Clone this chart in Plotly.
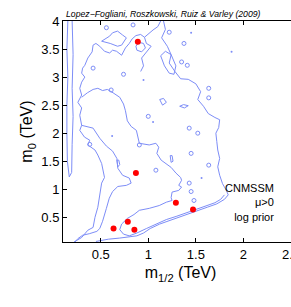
import plotly.graph_objects as go

# ---- contour lines of the posterior, (m_1/2 [TeV], m_0 [TeV]) ----
sliver = [(0.155, 4.0), (0.145, 3.5), (0.155, 3.0), (0.145, 2.5), (0.145, 2.0), (0.15, 1.5),
          (0.17, 1.22), (0.195, 1.3), (0.2, 1.8), (0.21, 2.3), (0.2, 2.8), (0.21, 3.4), (0.2, 4.0)]

top_left = [(1.13, 4.0), (1.1, 3.9), (1.05, 3.84), (1.0, 3.76), (0.96, 3.71), (0.92, 3.76),
            (0.87, 3.74), (0.83, 3.68), (0.8, 3.6), (0.76, 3.52), (0.72, 3.39), (0.667, 3.46),
            (0.625, 3.48), (0.594, 3.43), (0.54, 3.46), (0.49, 3.55), (0.45, 3.6),
            (0.42, 3.57), (0.41, 3.45), (0.365, 3.34), (0.333, 3.21), (0.31, 3.16), (0.30, 3.07),
            (0.333, 3.0), (0.30, 2.91), (0.28, 2.80), (0.30, 2.68), (0.26, 2.55), (0.30, 2.45),
            (0.28, 2.32), (0.30, 2.14), (0.28, 2.05), (0.33, 1.93), (0.385, 1.875), (0.365, 1.79),
            (0.44, 1.70), (0.47, 1.61), (0.51, 1.46), (0.52, 1.375), (0.54, 1.21), (0.51, 1.11),
            (0.5, 0.98), (0.49, 0.86), (0.47, 0.68), (0.44, 0.5), (0.42, 0.32), (0.365, 0.27),
            (0.3, 0.14), (0.25, 0.09), (0.22, 0.06)]

top_wiggle = [(0.51, 3.64), (0.5625, 3.70), (0.594, 3.73), (0.625, 3.79), (0.677, 3.82),
              (0.73, 3.75), (0.77, 3.70), (0.72, 3.57), (0.677, 3.55), (0.6, 3.6), (0.51, 3.64)]

top_drop = [(0.96, 3.71), (0.98, 3.6), (1.03, 3.55), (0.98, 3.45), (0.93, 3.34), (0.95, 3.2),
            (0.92, 3.1)]

notch = [(0.30, 2.14), (0.42, 2.09), (0.49, 1.91), (0.56, 1.77), (0.625, 1.68), (0.67, 1.55),
         (0.68, 1.375), (0.73, 1.25), (0.80, 1.2), (0.82, 1.11), (0.77, 1.07), (0.68, 1.05),
         (0.625, 0.96), (0.59, 0.84), (0.56, 0.66), (0.54, 0.54), (0.52, 0.43), (0.49, 0.30),
         (0.46, 0.25), (0.385, 0.21), (0.31, 0.18), (0.26, 0.12), (0.23, 0.06)]

middle = [(0.30, 2.64), (0.36, 2.72), (0.42, 2.78), (0.47, 2.8), (0.52, 2.76), (0.57, 2.78),
          (0.63, 2.72), (0.7, 2.64), (0.74, 2.52), (0.76, 2.4), (0.78, 2.22), (0.82, 2.12),
          (0.875, 2.05), (0.9, 1.9), (0.906, 1.82), (1.01, 1.79), (1.08, 1.82), (1.11, 1.75),
          (1.09, 1.64), (1.135, 1.52), (1.19, 1.46), (1.24, 1.39), (1.29, 1.29), (1.34, 1.21),
          (1.35, 1.16), (1.32, 1.07), (1.35, 1.04), (1.32, 0.98), (1.25, 0.95), (1.24, 0.85),
          (1.25, 0.8), (1.19, 0.77), (1.115, 0.71), (1.01, 0.66), (0.906, 0.625), (0.85, 0.55),
          (0.78, 0.48), (0.72, 0.38), (0.7, 0.28), (0.74, 0.2), (0.8, 0.17), (0.88, 0.22),
          (0.98, 0.30), (1.08, 0.38), (1.19, 0.46), (1.3, 0.52), (1.4, 0.58), (1.5, 0.65),
          (1.6, 0.7), (1.7, 0.76), (1.76, 0.82), (1.8, 0.9)]

right_side = [(1.16, 4.0), (1.18, 3.85), (1.14, 3.7), (1.2, 3.55), (1.24, 3.4), (1.22, 3.25),
              (1.28, 3.1), (1.34, 2.97), (1.42, 2.96), (1.5, 2.88), (1.55, 2.74), (1.52, 2.6),
              (1.58, 2.48), (1.63, 2.35), (1.7, 2.28), (1.75, 2.24), (1.74, 2.1), (1.71, 2.0),
              (1.72, 1.85), (1.73, 1.7), (1.75, 1.55), (1.73, 1.4), (1.75, 1.25), (1.78, 1.1),
              (1.82, 0.98), (1.84, 0.9), (1.8, 0.82), (1.72, 0.74), (1.62, 0.68), (1.52, 0.62),
              (1.42, 0.56), (1.32, 0.5), (1.22, 0.44), (1.12, 0.38), (1.02, 0.3), (0.95, 0.22),
              (0.88, 0.17), (0.8, 0.15), (0.7, 0.13), (0.58, 0.11), (0.5, 0.09), (0.45, 0.07)]

loop_top = [(0.87, 3.55), (0.9, 3.62), (0.95, 3.6), (0.97, 3.52), (0.93, 3.45), (0.88, 3.48), (0.87, 3.55)]
loop_oval = [(1.13, 3.38), (1.18, 3.46), (1.24, 3.4), (1.29, 3.2), (1.27, 3.05), (1.22, 3.07),
             (1.17, 3.2), (1.13, 3.38)]
loop_flat = [(1.33, 2.48), (1.37, 2.51), (1.42, 2.49), (1.38, 2.45), (1.33, 2.48)]
loop_a = [(0.67, 1.52), (0.69, 1.52), (0.70, 1.44), (0.68, 1.40), (0.67, 1.52)]
loop_b = [(1.23, 1.6), (1.25, 1.6), (1.26, 1.5), (1.24, 1.48), (1.23, 1.6)]
loop_c = [(1.12, 2.6), (1.16, 2.62), (1.19, 2.55), (1.15, 2.5), (1.12, 2.6)]

contour_lines = [sliver, top_left, top_wiggle, top_drop, notch, middle, right_side,
                 loop_top, loop_oval, loop_flat, loop_a, loop_b, loop_c]

# small isolated contour islands
island_x = [0.56, 0.84, 1.22, 1.375, 1.35, 1.41, 0.42, 0.61, 1.635, 1.635, 1.43, 1.45,
            1.635, 1.45, 1.43, 1.48, 0.385, 0.906, 1.08, 1.0, 0.74, 1.52]
island_y = [3.88, 3.93, 3.8, 3.6, 3.27, 3.21, 3.16, 2.77, 2.80, 2.63, 2.09, 1.64,
            1.43, 0.96, 1.11, 0.80, 1.80, 1.79, 1.34, 2.3, 3.05, 2.0]
# isolated specks
speck_x = [1.875, 1.45, 0.95, 1.05, 0.62, 1.56]
speck_y = [3.45, 3.79, 2.95, 2.2, 1.95, 1.2]

# best-fit points (red dots)
best_x = [0.89, 0.87, 1.29, 1.47, 0.635, 0.785, 0.854]
best_y = [3.63, 1.29, 0.76, 0.64, 0.30, 0.42, 0.28]

x_ticks = [0.5, 1, 1.5, 2, 2.5]
x_tick_text = ["0.5", "1", "1.5", "2", "2.5"]
y_ticks = [0.5, 1, 1.5, 2, 2.5, 3, 3.5, 4]
y_tick_text = ["0.5", "1", "1.5", "2", "2.5", "3", "3.5", "4"]

LINE = "#7d8df7"
FONT = "Liberation Sans, Arial, Helvetica, sans-serif"

fig = go.Figure()
for pts in contour_lines:
    fig.add_trace(go.Scatter(x=[p[0] for p in pts], y=[p[1] for p in pts], mode="lines",
                             line=dict(color=LINE, width=1), hoverinfo="skip", showlegend=False))
fig.add_trace(go.Scatter(x=island_x, y=island_y, mode="markers",
                         marker=dict(symbol="circle-open", size=4, color=LINE, line=dict(width=1)),
                         showlegend=False))
fig.add_trace(go.Scatter(x=speck_x, y=speck_y, mode="markers",
                         marker=dict(symbol="circle", size=2, color=LINE), showlegend=False))
fig.add_trace(go.Scatter(x=best_x, y=best_y, mode="markers",
                         marker=dict(symbol="circle", size=6, color="#ff0000"), showlegend=False))

axis_common = dict(showline=True, linecolor="black", linewidth=1, mirror="ticks",
                   ticks="inside", ticklen=4, tickcolor="black", showgrid=False, zeroline=False,
                   ticklabeloverflow="allow",
                   tickfont=dict(family=FONT, size=13, color="black"))
# the figure is a little wider than the 291 px window; its right edge is cut off, as in the original
fig.update_layout(
    width=300, height=307,
    margin=dict(l=63, r=0, t=21, b=65),
    paper_bgcolor="white", plot_bgcolor="white",
    xaxis=dict(range=[0.104, 2.573], tickvals=x_ticks, ticktext=x_tick_text,
               title=dict(text="m<sub>1/2</sub> (TeV)", font=dict(family=FONT, size=16, color="black"),
                          standoff=6),
               **axis_common),
    yaxis=dict(range=[0.06, 4.0], tickvals=y_ticks, ticktext=y_tick_text,
               title=dict(text="m<sub>0</sub> (TeV)", font=dict(family=FONT, size=16, color="black"),
                          standoff=4),
               **axis_common),
    annotations=[
        dict(text="<i>Lopez\u2212Fogliani, Roszkowski, Ruiz &amp; Varley (2009)</i>", xref="paper", yref="paper",
             x=0, y=1, xanchor="left", yanchor="bottom", xshift=1, yshift=0, showarrow=False,
             font=dict(family=FONT, size=8.7, color="black")),
        dict(text="CNMSSM<br>\u03bc>0<br>log prior", xref="x", yref="y", x=2.345, y=0.76,
             xanchor="right", yanchor="middle", align="right", showarrow=False,
             font=dict(family=FONT, size=11, color="black")),
    ],
)
fig.write_html("out.html", config={"displayModeBar": False},
               post_script="document.body.style.margin='0';document.body.style.overflow='hidden';")
